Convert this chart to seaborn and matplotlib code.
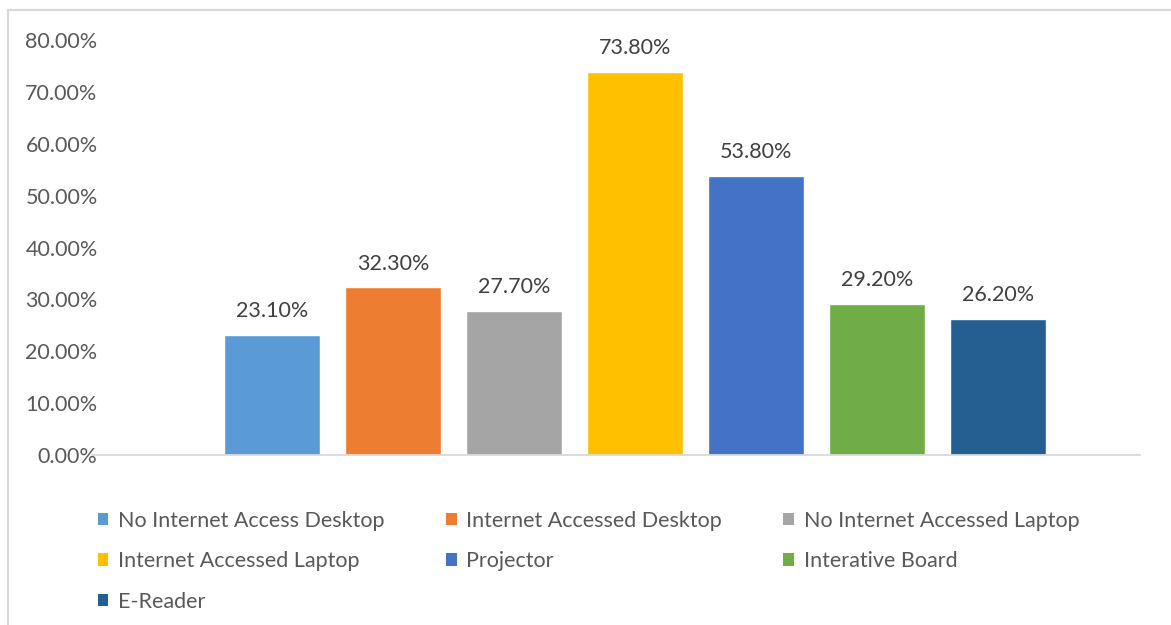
import matplotlib
matplotlib.use("Agg")
import matplotlib.pyplot as plt
from matplotlib.patches import Rectangle
import seaborn as sns
import pandas as pd

devices = [
    "No Internet Access Desktop",
    "Internet Accessed Desktop",
    "No Internet Accessed Laptop",
    "Internet Accessed Laptop",
    "Projector",
    "Interative Board",
    "E-Reader",
]
shares = [23.10, 32.30, 27.70, 73.80, 53.80, 29.20, 26.20]
colors = ["#5B9BD5", "#ED7D31", "#A5A5A5", "#FFC000", "#4472C4", "#70AD47", "#255E91"]
y_ticks = [0, 10, 20, 30, 40, 50, 60, 70, 80]

sns.set_style("white")
plt.rcParams["font.family"] = ["Lato", "DejaVu Sans"]
text_color = "#595959"
fs = 15.5

df = pd.DataFrame({"device": devices, "share": shares})

fig = plt.figure(figsize=(11.71, 6.25), dpi=100)
ax = fig.add_axes([92 / 1171, 1 - 455 / 625, (1140 - 92) / 1171, (455 - 40) / 625])

sns.barplot(data=df, x="device", y="share", hue="device", order=devices,
            hue_order=devices, palette=colors, dodge=False, width=0.80,
            saturation=1, ax=ax, legend=False)

ax.set_xlim(-1.488, 7.174)
ax.set_ylim(0, 80)
ax.set_yticks(y_ticks)
ax.set_yticklabels([f"{t:.2f}%" for t in y_ticks], color=text_color, fontsize=fs)
ax.set_xticks([])
ax.set_xlabel("")
ax.set_ylabel("")
ax.tick_params(axis="y", length=0, pad=-4)
for s in ["top", "right", "left"]:
    ax.spines[s].set_visible(False)
ax.spines["bottom"].set_color("#D9D9D9")
ax.spines["bottom"].set_linewidth(1.3)

for patch, val in zip(ax.patches, shares):
    ax.annotate(f"{val:.2f}%", (patch.get_x() + patch.get_width() / 2, patch.get_height()),
                xytext=(0, 10), textcoords="offset points", ha="center", va="bottom",
                fontsize=fs, color="#404040")

handles = [Rectangle((0, 0), 1, 1, facecolor=c, edgecolor="none") for c in colors]
order = [0, 3, 6, 1, 4, 2, 5]
leg = fig.legend([handles[i] for i in order], [devices[i] for i in order],
                 ncol=3, loc="upper left", bbox_to_anchor=(89 / 1171, 1 - 502 / 625),
                 frameon=False, fontsize=fs, handlelength=0.5, handleheight=0.5,
                 handletextpad=0.45, columnspacing=2.85, labelspacing=0.95,
                 borderaxespad=0)
for t in leg.get_texts():
    t.set_color(text_color)

# thin frame around the chart area
fig.patches.append(Rectangle((8 / 1171, -0.1), 1.2, 1 - 10 / 625 + 0.1,
                             transform=fig.transFigure, fill=False,
                             edgecolor="#D9D9D9", linewidth=1.5))

fig.savefig("out.png", dpi=100)
